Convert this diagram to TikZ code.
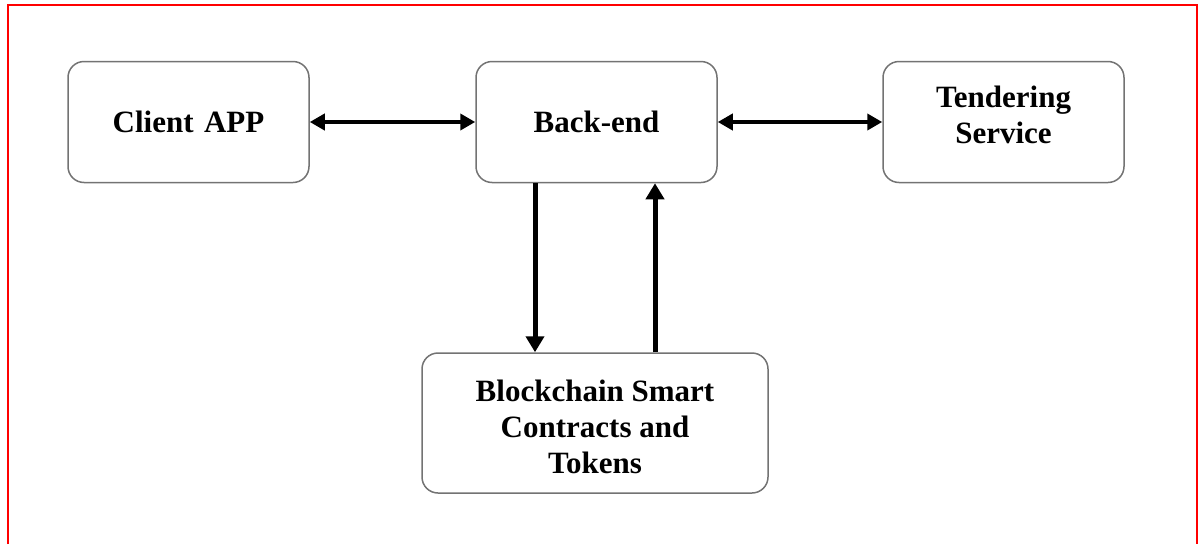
\documentclass[tikz,border=0pt]{standalone}
\usepackage{fontspec}
\setmainfont{Liberation Serif}
\usetikzlibrary{arrows.meta}
\begin{document}
\begin{tikzpicture}[x=1pt,y=-1pt,
  block/.style={draw=black!55, line width=1.5pt, rounded corners=16pt, fill=white,
    minimum width=241pt, minimum height=121pt, inner sep=0pt},
  lbl/.style={font=\bfseries\fontsize{31}{36}\selectfont, align=center, inner sep=0pt},
  link/.style={line width=5pt, -{Triangle[length=16pt,width=18pt]}},
  both/.style={line width=4.5pt, {Triangle[length=15pt,width=16pt]}-{Triangle[length=15pt,width=16pt]}}]
  \useasboundingbox (0,0) rectangle (1203,544);
  % red frame, open at the bottom
  \draw[red, line width=2pt] (8,544) -- (8,5) -- (1197,5) -- (1197,544);

  \node[block] (client) at (188.5,122) {};
  \node[block] (backend) at (596.5,122) {};
  \node[block] (tender) at (1003.5,122) {};
  \node[block, minimum width=346pt, minimum height=140pt] (chain) at (595,423) {};

  \node[lbl] (clientt) at (client.center) {Client\,\,APP};
  \node[lbl] (backendt) at (backend.center) {Back-end};
  \node[lbl] (tendert) at ([yshift=7pt]tender.center) {Tendering\\Service};
  \node[lbl] (chaint) at ([yshift=-4pt]chain.center) {Blockchain Smart\\Contracts and\\Tokens};

  \draw[both] (client.east) -- (backend.west);
  \draw[both] (backend.east) -- (tender.west);
  \draw[link] (backend.south -| 535,0) -- (chain.north -| 535,0);
  \draw[link] (chain.north -| 655,0) -- (backend.south -| 655,0);
\end{tikzpicture}
\end{document}
